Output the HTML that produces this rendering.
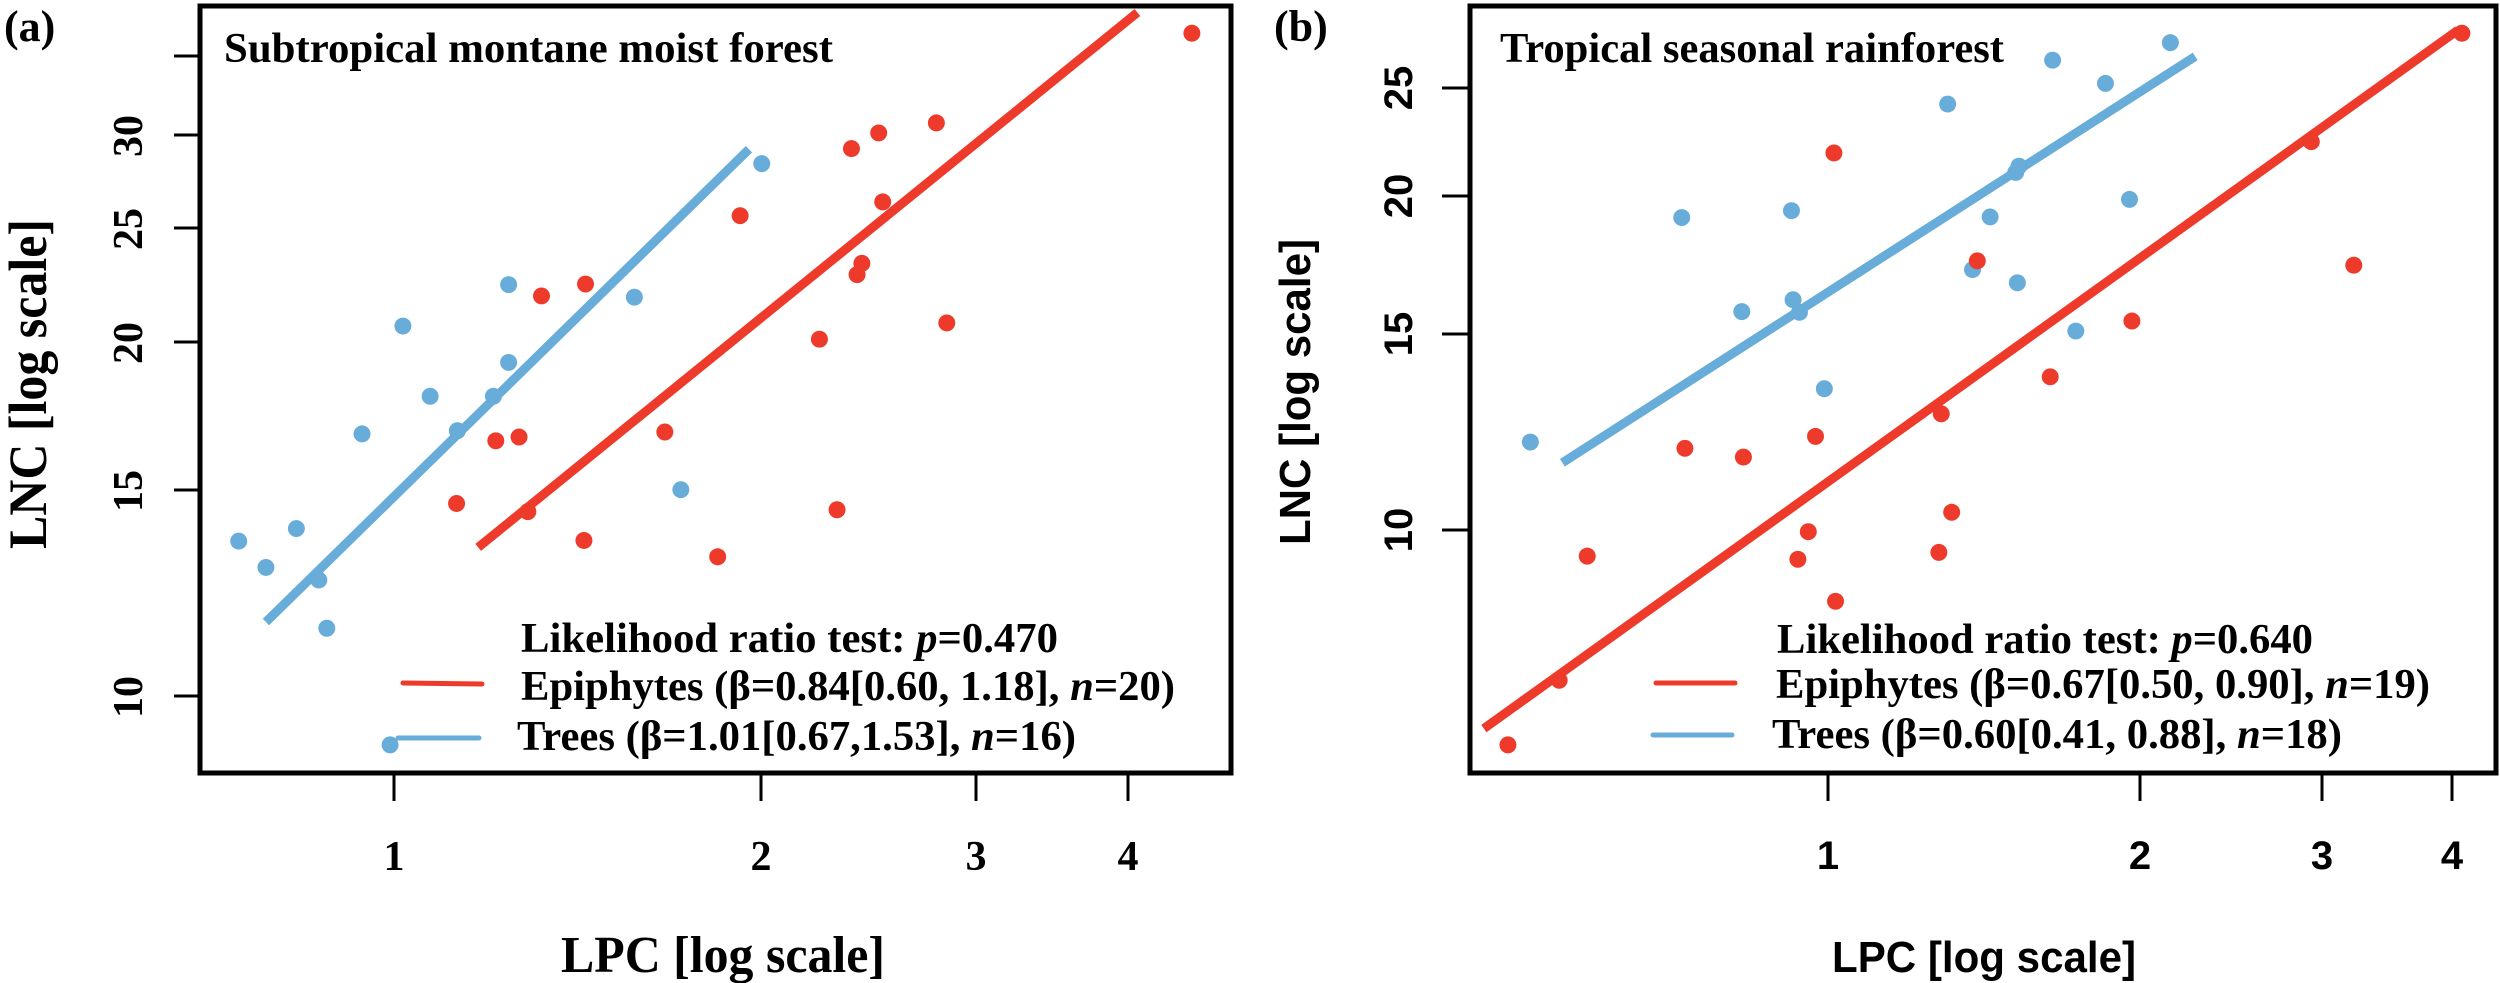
<!DOCTYPE html>
<html><head><meta charset="utf-8"><style>
html,body{margin:0;padding:0;background:#fff}
svg{display:block}
.t{font-family:"Liberation Serif",serif;font-weight:bold;fill:#000}
.s{font-family:"Liberation Sans",sans-serif;font-weight:bold;fill:#000}
</style></head><body>
<svg width="2500" height="983" viewBox="0 0 2500 983" xmlns="http://www.w3.org/2000/svg">
<rect width="2500" height="983" fill="#fff"/>
<!-- Panel A -->
<rect x="200" y="6" width="1031" height="767" fill="none" stroke="#000" stroke-width="5"/>
<g stroke="#000" stroke-width="3">
<line x1="174" y1="56" x2="200" y2="56"/><line x1="174" y1="135" x2="200" y2="135"/>
<line x1="174" y1="228" x2="200" y2="228"/><line x1="174" y1="342" x2="200" y2="342"/>
<line x1="174" y1="490" x2="200" y2="490"/><line x1="174" y1="696" x2="200" y2="696"/>
<line x1="394" y1="773" x2="394" y2="801"/><line x1="761" y1="773" x2="761" y2="801"/>
<line x1="976" y1="773" x2="976" y2="801"/><line x1="1128" y1="773" x2="1128" y2="801"/>
</g>
<g class="t" font-size="42" text-anchor="middle">
<text transform="translate(142,136) rotate(-90)">30</text>
<text transform="translate(142,229) rotate(-90)">25</text>
<text transform="translate(142,343) rotate(-90)">20</text>
<text transform="translate(142,491) rotate(-90)">15</text>
<text transform="translate(142,697) rotate(-90)">10</text>
<text x="394" y="870">1</text><text x="761" y="870">2</text>
<text x="976" y="870">3</text><text x="1128" y="870">4</text>
</g>
<text class="t" font-size="54" transform="translate(46,384) rotate(-90)" text-anchor="middle" textLength="330" lengthAdjust="spacingAndGlyphs">LNC [log scale]</text>
<text class="t" font-size="52" x="561" y="972" textLength="324" lengthAdjust="spacingAndGlyphs">LPC [log scale]</text>
<text class="t" font-size="44" x="4" y="41">(a)</text>
<text class="t" font-size="42" x="224" y="62" textLength="609" lengthAdjust="spacingAndGlyphs">Subtropical montane moist forest</text>
<text class="t" font-size="42" x="521" y="652" textLength="537" lengthAdjust="spacingAndGlyphs">Likelihood ratio test: <tspan font-style="italic">p</tspan>=0.470</text>
<text class="t" font-size="42" x="521" y="700" textLength="654" lengthAdjust="spacingAndGlyphs">Epiphytes (β=0.84[0.60, 1.18], <tspan font-style="italic">n</tspan>=20)</text>
<text class="t" font-size="42" x="517" y="750" textLength="559" lengthAdjust="spacingAndGlyphs">Trees (β=1.01[0.67,1.53], <tspan font-style="italic">n</tspan>=16)</text>
<line x1="403" y1="683" x2="482" y2="684" stroke="#ee3a2a" stroke-width="5" stroke-linecap="round"/>
<line x1="398" y1="738" x2="479" y2="738" stroke="#68acda" stroke-width="5" stroke-linecap="round"/>
<g transform="scale(0.801,0.627)">
<line x1="332" y1="992" x2="935" y2="238" stroke="#68acda" stroke-width="9" vector-effect="non-scaling-stroke"/>
<line x1="597" y1="873" x2="1420" y2="20" stroke="#ee3a2a" stroke-width="9" vector-effect="non-scaling-stroke"/>
<g fill="#68acda">
<ellipse cx="298" cy="863" rx="10.6" ry="13.5"/><ellipse cx="332" cy="905" rx="10.6" ry="13.5"/><ellipse cx="370" cy="843" rx="10.6" ry="13.5"/><ellipse cx="398" cy="925" rx="10.6" ry="13.5"/><ellipse cx="408" cy="1002" rx="10.6" ry="13.5"/><ellipse cx="452" cy="692" rx="10.6" ry="13.5"/><ellipse cx="487" cy="1188" rx="10.6" ry="13.5"/><ellipse cx="503" cy="520" rx="10.6" ry="13.5"/><ellipse cx="537" cy="632" rx="10.6" ry="13.5"/><ellipse cx="571" cy="687" rx="10.6" ry="13.5"/><ellipse cx="616" cy="632" rx="10.6" ry="13.5"/><ellipse cx="635" cy="578" rx="10.6" ry="13.5"/><ellipse cx="635" cy="454" rx="10.6" ry="13.5"/><ellipse cx="792" cy="474" rx="10.6" ry="13.5"/><ellipse cx="850" cy="781" rx="10.6" ry="13.5"/><ellipse cx="951" cy="261" rx="10.6" ry="13.5"/>
</g>
<g fill="#ee3a2a">
<ellipse cx="570" cy="803" rx="10.6" ry="13.5"/><ellipse cx="619" cy="703" rx="10.6" ry="13.5"/><ellipse cx="648" cy="697" rx="10.6" ry="13.5"/><ellipse cx="659" cy="816" rx="10.6" ry="13.5"/><ellipse cx="676" cy="472" rx="10.6" ry="13.5"/><ellipse cx="729" cy="862" rx="10.6" ry="13.5"/><ellipse cx="731" cy="453" rx="10.6" ry="13.5"/><ellipse cx="830" cy="689" rx="10.6" ry="13.5"/><ellipse cx="896" cy="888" rx="10.6" ry="13.5"/><ellipse cx="924" cy="344" rx="10.6" ry="13.5"/><ellipse cx="1023" cy="541" rx="10.6" ry="13.5"/><ellipse cx="1045" cy="813" rx="10.6" ry="13.5"/><ellipse cx="1063" cy="237" rx="10.6" ry="13.5"/><ellipse cx="1070" cy="438" rx="10.6" ry="13.5"/><ellipse cx="1076" cy="420" rx="10.6" ry="13.5"/><ellipse cx="1097" cy="212" rx="10.6" ry="13.5"/><ellipse cx="1102" cy="322" rx="10.6" ry="13.5"/><ellipse cx="1169" cy="196" rx="10.6" ry="13.5"/><ellipse cx="1182" cy="515" rx="10.6" ry="13.5"/><ellipse cx="1488" cy="53" rx="10.6" ry="13.5"/>
</g>
</g>
<!-- Panel B -->
<rect x="1470" y="6" width="1026" height="767" fill="none" stroke="#000" stroke-width="5"/>
<g stroke="#000" stroke-width="3">
<line x1="1442" y1="88" x2="1470" y2="88"/><line x1="1442" y1="196" x2="1470" y2="196"/>
<line x1="1442" y1="334" x2="1470" y2="334"/><line x1="1442" y1="530" x2="1470" y2="530"/>
<line x1="1828" y1="773" x2="1828" y2="801"/><line x1="2140" y1="773" x2="2140" y2="801"/>
<line x1="2322" y1="773" x2="2322" y2="801"/><line x1="2452" y1="773" x2="2452" y2="801"/>
</g>
<g class="s" font-size="40" text-anchor="middle">
<text transform="translate(1412,88) rotate(-90)">25</text>
<text transform="translate(1412,196) rotate(-90)">20</text>
<text transform="translate(1412,334) rotate(-90)">15</text>
<text transform="translate(1412,530) rotate(-90)">10</text>
<text x="1828" y="869">1</text><text x="2140" y="869">2</text>
<text x="2322" y="869">3</text><text x="2452" y="869">4</text>
</g>
<text class="s" font-size="44" transform="translate(1310,392) rotate(-90)" text-anchor="middle" textLength="306" lengthAdjust="spacingAndGlyphs">LNC [log scale]</text>
<text class="s" font-size="44" x="1832" y="972" textLength="304" lengthAdjust="spacingAndGlyphs">LPC [log scale]</text>
<text class="t" font-size="44" x="1274" y="41">(b)</text>
<text class="t" font-size="42" x="1500" y="62" textLength="504" lengthAdjust="spacingAndGlyphs">Tropical seasonal rainforest</text>
<text class="t" font-size="42" x="1777" y="653" textLength="536" lengthAdjust="spacingAndGlyphs">Likelihood ratio test: <tspan font-style="italic">p</tspan>=0.640</text>
<text class="t" font-size="42" x="1776" y="698" textLength="654" lengthAdjust="spacingAndGlyphs">Epiphytes (β=0.67[0.50, 0.90], <tspan font-style="italic">n</tspan>=19)</text>
<text class="t" font-size="42" x="1772" y="748" textLength="570" lengthAdjust="spacingAndGlyphs">Trees (β=0.60[0.41, 0.88], <tspan font-style="italic">n</tspan>=18)</text>
<line x1="1656" y1="683" x2="1735" y2="683" stroke="#ee3a2a" stroke-width="5" stroke-linecap="round"/>
<line x1="1653" y1="735" x2="1732" y2="735" stroke="#68acda" stroke-width="5" stroke-linecap="round"/>
<g transform="translate(1250,0) scale(0.801,0.627)">
<line x1="390" y1="738" x2="1180" y2="90" stroke="#68acda" stroke-width="9" vector-effect="non-scaling-stroke"/>
<line x1="292" y1="1162" x2="1508" y2="48" stroke="#ee3a2a" stroke-width="9" vector-effect="non-scaling-stroke"/>
<g fill="#68acda">
<ellipse cx="350" cy="705" rx="10.6" ry="13.5"/><ellipse cx="539" cy="347" rx="10.6" ry="13.5"/><ellipse cx="614" cy="497" rx="10.6" ry="13.5"/><ellipse cx="676" cy="336" rx="10.6" ry="13.5"/><ellipse cx="678" cy="478" rx="10.6" ry="13.5"/><ellipse cx="686" cy="498" rx="10.6" ry="13.5"/><ellipse cx="717" cy="620" rx="10.6" ry="13.5"/><ellipse cx="871" cy="166" rx="10.6" ry="13.5"/><ellipse cx="902" cy="430" rx="10.6" ry="13.5"/><ellipse cx="924" cy="346" rx="10.6" ry="13.5"/><ellipse cx="956" cy="275" rx="10.6" ry="13.5"/><ellipse cx="958" cy="451" rx="10.6" ry="13.5"/><ellipse cx="960" cy="265" rx="10.6" ry="13.5"/><ellipse cx="1002" cy="96" rx="10.6" ry="13.5"/><ellipse cx="1031" cy="528" rx="10.6" ry="13.5"/><ellipse cx="1068" cy="133" rx="10.6" ry="13.5"/><ellipse cx="1098" cy="318" rx="10.6" ry="13.5"/><ellipse cx="1149" cy="68" rx="10.6" ry="13.5"/>
</g>
<g fill="#ee3a2a">
<ellipse cx="322" cy="1188" rx="10.6" ry="13.5"/><ellipse cx="386" cy="1085" rx="10.6" ry="13.5"/><ellipse cx="421" cy="887" rx="10.6" ry="13.5"/><ellipse cx="543" cy="715" rx="10.6" ry="13.5"/><ellipse cx="616" cy="729" rx="10.6" ry="13.5"/><ellipse cx="684" cy="892" rx="10.6" ry="13.5"/><ellipse cx="697" cy="848" rx="10.6" ry="13.5"/><ellipse cx="706" cy="696" rx="10.6" ry="13.5"/><ellipse cx="729" cy="244" rx="10.6" ry="13.5"/><ellipse cx="731" cy="959" rx="10.6" ry="13.5"/><ellipse cx="860" cy="881" rx="10.6" ry="13.5"/><ellipse cx="863" cy="660" rx="10.6" ry="13.5"/><ellipse cx="876" cy="817" rx="10.6" ry="13.5"/><ellipse cx="908" cy="416" rx="10.6" ry="13.5"/><ellipse cx="999" cy="601" rx="10.6" ry="13.5"/><ellipse cx="1101" cy="512" rx="10.6" ry="13.5"/><ellipse cx="1325" cy="226" rx="10.6" ry="13.5"/><ellipse cx="1378" cy="423" rx="10.6" ry="13.5"/><ellipse cx="1513" cy="53" rx="10.6" ry="13.5"/>
</g>
</g>
</svg>
</body></html>
